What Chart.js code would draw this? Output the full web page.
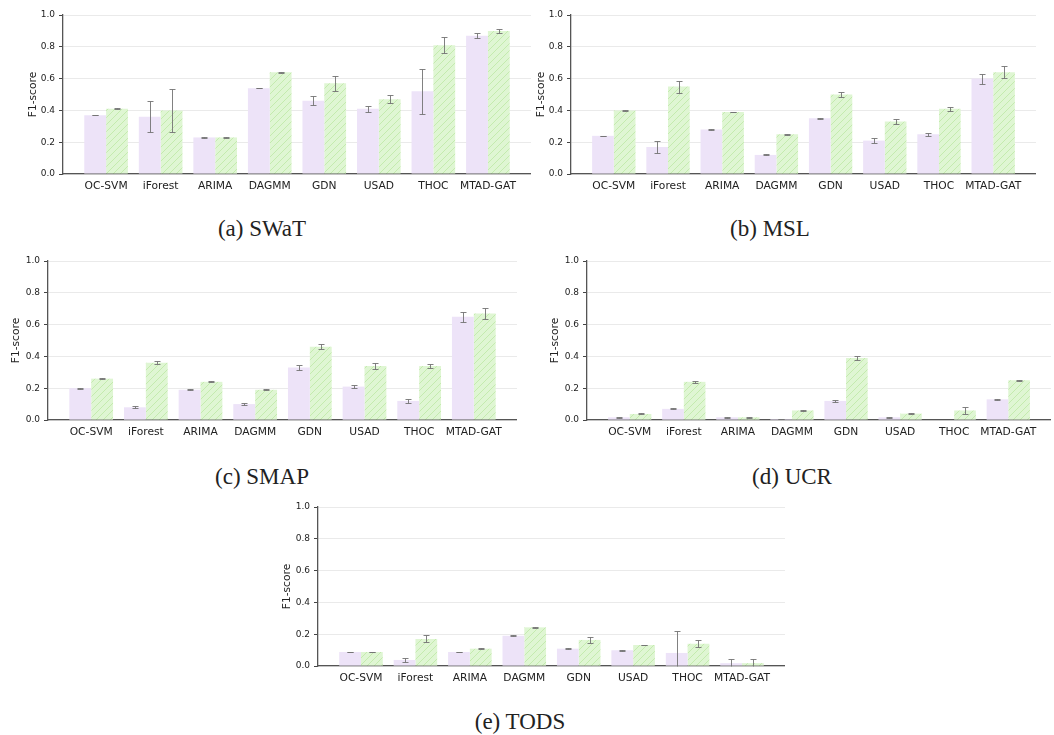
<!DOCTYPE html>
<html>
<head>
<meta charset="utf-8">
<script src="https://cdn.jsdelivr.net/npm/chart.js@4"></script>
<style>
  body { margin: 0; background: #fff; }
  #fig { position: relative; width: 1054px; height: 735px; overflow: hidden; }
  #fig canvas { position: absolute; }
  .cap { position: absolute; font-family: "Liberation Serif", serif; font-size: 23px; color: #222; white-space: nowrap; transform: translate(-50%, -50%); }
</style>
</head>
<body>
<div id="fig"></div>
<script>
// methods on the x axis
var methods = ['OC-SVM', 'iForest', 'ARIMA', 'DAGMM', 'GDN', 'USAD', 'THOC', 'MTAD-GAT'];
var yTicks = [0, 0.2, 0.4, 0.6, 0.8, 1.0];

// SWaT
var swatPurple = [0.37, 0.36, 0.23, 0.54, 0.46, 0.41, 0.52, 0.87];
var swatPurpleErr = [0.002, 0.097, 0.002, 0.002, 0.028, 0.017, 0.14, 0.014];
var swatGreen = [0.41, 0.40, 0.23, 0.64, 0.57, 0.47, 0.81, 0.90];
var swatGreenErr = [0.002, 0.133, 0.002, 0.002, 0.047, 0.024, 0.052, 0.012];

// MSL
var mslPurple = [0.24, 0.17, 0.28, 0.12, 0.35, 0.21, 0.25, 0.60];
var mslPurpleErr = [0.002, 0.035, 0.002, 0.003, 0.005, 0.016, 0.01, 0.032];
var mslGreen = [0.40, 0.55, 0.39, 0.25, 0.50, 0.33, 0.41, 0.64];
var mslGreenErr = [0.002, 0.038, 0.002, 0.003, 0.015, 0.016, 0.013, 0.037];

// SMAP
var smapPurple = [0.20, 0.08, 0.19, 0.10, 0.33, 0.21, 0.12, 0.65];
var smapPurpleErr = [0.002, 0.005, 0.002, 0.007, 0.017, 0.008, 0.01, 0.031];
var smapGreen = [0.26, 0.36, 0.24, 0.19, 0.46, 0.34, 0.34, 0.67];
var smapGreenErr = [0.002, 0.01, 0.003, 0.003, 0.016, 0.02, 0.01, 0.033];

// UCR
var ucrPurple = [0.017, 0.07, 0.017, 0.006, 0.12, 0.017, 0, 0.13];
var ucrPurpleErr = [0.002, 0.003, 0.002, 0.002, 0.004, 0.002, 0, 0.005];
var ucrGreen = [0.038, 0.24, 0.017, 0.06, 0.39, 0.04, 0.06, 0.25];
var ucrGreenErr = [0.003, 0.005, 0.002, 0.003, 0.015, 0.003, 0.021, 0.004];

// TODS
var todsPurple = [0.088, 0.038, 0.088, 0.19, 0.109, 0.099, 0.082, 0.018];
var todsPurpleErr = [0.002, 0.01, 0.002, 0.002, 0.003, 0.002, 0.14, 0.027];
var todsGreen = [0.088, 0.17, 0.109, 0.243, 0.164, 0.132, 0.14, 0.018];
var todsGreenErr = [0.002, 0.022, 0.002, 0.002, 0.02, 0.002, 0.022, 0.027];

// where each panel goes on the page
var panels = [
    { caption: '(a) SWaT', purple: swatPurple, purpleErr: swatPurpleErr, green: swatGreen, greenErr: swatGreenErr,
      titleX: 33, left: 63, right: 531, top: 15, bottom: 174, capX: 262, capY: 229 },
    { caption: '(b) MSL', purple: mslPurple, purpleErr: mslPurpleErr, green: mslGreen, greenErr: mslGreenErr,
      titleX: 541, left: 571, right: 1036, top: 15, bottom: 174, capX: 770, capY: 229 },
    { caption: '(c) SMAP', purple: smapPurple, purpleErr: smapPurpleErr, green: smapGreen, greenErr: smapGreenErr,
      titleX: 16, left: 48, right: 517, top: 261, bottom: 420, capX: 262, capY: 477 },
    { caption: '(d) UCR', purple: ucrPurple, purpleErr: ucrPurpleErr, green: ucrGreen, greenErr: ucrGreenErr,
      titleX: 555, left: 587, right: 1051, top: 261, bottom: 420, capX: 792, capY: 477 },
    { caption: '(e) TODS', purple: todsPurple, purpleErr: todsPurpleErr, green: todsGreen, greenErr: todsGreenErr,
      titleX: 287, left: 318, right: 785, top: 507, bottom: 666, capX: 520, capY: 722 }
];

// light green with diagonal hatching
function makeHatch() {
    var c = document.createElement('canvas');
    c.width = 7;
    c.height = 7;
    var g = c.getContext('2d');
    g.fillStyle = 'rgb(223,246,211)';
    g.fillRect(0, 0, 7, 7);
    g.strokeStyle = 'rgb(196,235,174)';
    g.lineWidth = 1;
    g.beginPath();
    g.moveTo(-1, 8); g.lineTo(8, -1);
    g.moveTo(-2, 2); g.lineTo(2, -2);
    g.moveTo(5, 9); g.lineTo(9, 5);
    g.stroke();
    return g.createPattern(c, 'repeat');
}

// draw the error bars on top of the bars
var errorBars = {
    id: 'errorBars',
    afterDatasetsDraw: function(chart) {
        var ctx = chart.ctx;
        var yScale = chart.scales.y;
        var area = chart.chartArea;
        ctx.save();
        ctx.strokeStyle = 'rgba(115,115,115,0.9)';
        ctx.lineWidth = 1;
        chart.data.datasets.forEach(function(ds, di) {
            var meta = chart.getDatasetMeta(di);
            meta.data.forEach(function(bar, i) {
                var e = ds.errors[i];
                if (!e) return;
                var v = ds.data[i].y;
                var x = Math.round(bar.x) + 0.5;
                var top = Math.round(yScale.getPixelForValue(v + e)) + 0.5;
                var bot = Math.round(Math.min(yScale.getPixelForValue(v - e), area.bottom)) + 0.5;
                ctx.beginPath();
                ctx.moveTo(x, top); ctx.lineTo(x, bot);
                ctx.moveTo(x - 3, top); ctx.lineTo(x + 3, top);
                if (yScale.getPixelForValue(v - e) < area.bottom) {
                    ctx.moveTo(x - 3, bot); ctx.lineTo(x + 3, bot);
                }
                ctx.stroke();
            });
        });
        ctx.restore();
    }
};

function toPoints(vals) {
    return vals.map(function(v, i) { return { x: i, y: v }; });
}

var fig = document.getElementById('fig');
var hatch = makeHatch();
var halfLine = 10.7 * 1.2 / 2;

panels.forEach(function(p) {
    var cx = Math.floor(p.titleX - 10);
    var cy = p.top - 10;
    var w = p.right - cx;
    var h = p.bottom + 30 - cy;
    var canvas = document.createElement('canvas');
    canvas.width = w;
    canvas.height = h;
    canvas.style.left = cx + 'px';
    canvas.style.top = cy + 'px';
    canvas.style.width = w + 'px';
    canvas.style.height = h + 'px';
    fig.appendChild(canvas);

    var padLeft = p.titleX - halfLine - cx;
    var yWidth = p.left - cx - padLeft;

    new Chart(canvas, {
        type: 'bar',
        data: {
            datasets: [
                { data: toPoints(p.purple), errors: p.purpleErr, backgroundColor: 'rgb(237,227,248)', borderWidth: 0 },
                { data: toPoints(p.green), errors: p.greenErr, backgroundColor: hatch, borderWidth: 0 }
            ]
        },
        options: {
            responsive: false,
            animation: false,
            events: [],
            layout: { padding: { left: padLeft, top: 10, right: 0, bottom: 0 } },
            datasets: { bar: { categoryPercentage: 0.8, barPercentage: 1.0 } },
            plugins: { legend: { display: false }, tooltip: { enabled: false } },
            scales: {
                x: {
                    type: 'linear',
                    offset: false,
                    min: -0.79,
                    max: 7.79,
                    grid: { display: false, drawTicks: false, offset: false },
                    border: { color: '#555', width: 1.3 },
                    afterBuildTicks: function(scale) {
                        scale.ticks = methods.map(function(m, i) { return { value: i }; });
                    },
                    afterFit: function(scale) { scale.height = 30; },
                    ticks: {
                        autoSkip: false,
                        maxRotation: 0,
                        padding: 6,
                        color: '#222',
                        font: { family: 'DejaVu Sans', size: 10.7 },
                        callback: function(v) { return methods[v]; }
                    }
                },
                y: {
                    min: 0,
                    max: 1,
                    afterBuildTicks: function(scale) {
                        scale.ticks = yTicks.map(function(t) { return { value: t }; });
                    },
                    afterFit: function(scale) { scale.width = yWidth; },
                    grid: { color: '#e4e4e4', lineWidth: 0.8, borderDash: [1, 2], tickColor: '#444', tickLength: 4, tickWidth: 1 },
                    border: { color: '#555', width: 1.3 },
                    ticks: {
                        padding: 4,
                        color: '#222',
                        font: { family: 'DejaVu Sans', size: 9 },
                        callback: function(v) { return v.toFixed(1); }
                    },
                    title: {
                        display: true,
                        text: 'F1-score',
                        color: '#222',
                        padding: 0,
                        font: { family: 'DejaVu Sans', size: 10.7 }
                    }
                }
            }
        },
        plugins: [errorBars]
    });

    var cap = document.createElement('div');
    cap.className = 'cap';
    cap.textContent = p.caption;
    cap.style.left = p.capX + 'px';
    cap.style.top = p.capY + 'px';
    fig.appendChild(cap);
});
</script>
</body>
</html>
